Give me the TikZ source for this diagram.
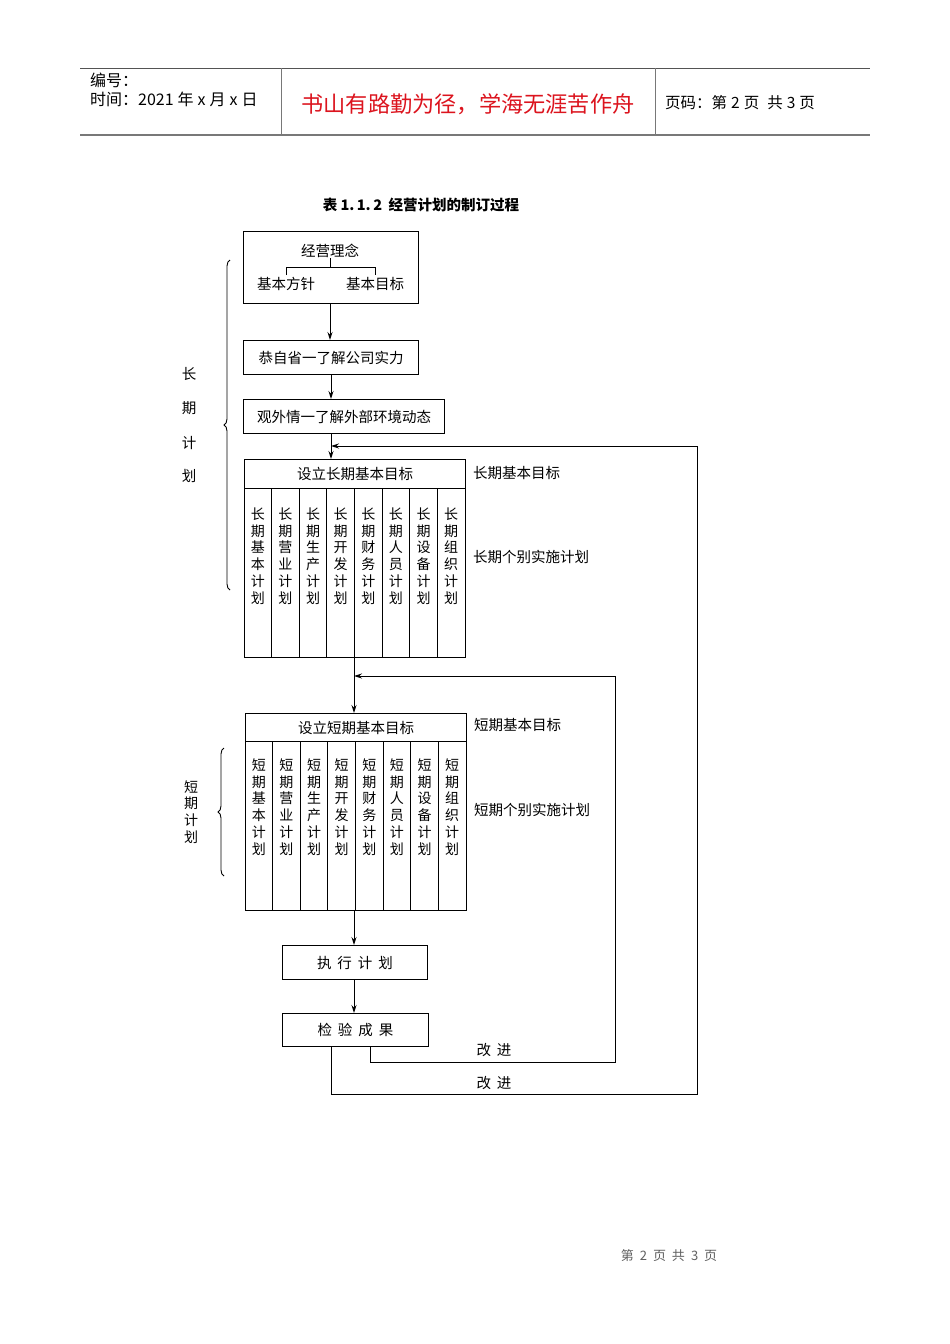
\documentclass[tikz,border=0pt]{standalone}
\usepackage{fontspec}
\setmainfont{Liberation Sans}
\newfontfamily\cjk{Noto Sans CJK SC}
\usetikzlibrary{arrows.meta,decorations.pathreplacing,calc}
\definecolor{hdrred}{RGB}{220,20,30}
\definecolor{hdrgray}{RGB}{120,120,120}
\begin{document}
\begin{tikzpicture}[x=1pt,y=-1pt,
  box/.style={draw, line width=1pt, inner sep=0pt, anchor=north west},
  txt/.style={font=\cjk\fontsize{14.5}{17}\selectfont, inner sep=0pt},
  col/.style={font=\cjk\fontsize{14}{16.8}\selectfont, inner sep=0pt, align=center},
  arr/.style={line width=0.9pt, -{Stealth[length=8pt,width=5pt]}},
  ln/.style={line width=0.9pt},
  brc/.style={line width=0.9pt, decorate, decoration={brace, amplitude=6pt}},
  hdr/.style={font=\cjk\fontsize{16}{19}\selectfont, inner sep=0pt, anchor=west}
]
\useasboundingbox (0,0) rectangle (950,1344);
\fill[white] (0,0) rectangle (950,1344);

% ---------- header ----------
\coordinate (hTL) at (80,68);
\coordinate (hTR) at (870,68);
\coordinate (hBL) at (80,135);
\coordinate (hBR) at (870,135);
\draw[line width=0.8pt, hdrgray!70!black] (hTL) -- (hTR);
\draw[line width=1.8pt, hdrgray] (hBL) -- (hBR);
\draw[line width=0.8pt, hdrgray] (281,68) -- (281,135);
\draw[line width=0.8pt, hdrgray] (655,68) -- (655,135);
\node[hdr] (h1) at (90,80) {编号：};
\node[hdr] (h2) at (90,99) {时间：2021\hspace{4pt}年\hspace{4pt}x\hspace{4pt}月\hspace{4pt}x\hspace{4pt}日};
\node[font=\cjk\fontsize{22.2}{25}\selectfont, text=hdrred, inner sep=0pt] (h3) at (468,104) {书山有路勤为径，学海无涯苦作舟};
\node[hdr, font=\cjk\fontsize{15.5}{18}\selectfont] (h4) at (665,103) {页码：第\hspace{4pt}2\hspace{4pt}页\hspace{8pt}共\hspace{4pt}3\hspace{4pt}页};

% ---------- title ----------
\node[font=\cjk\bfseries\fontsize{14.5}{17}\selectfont, inner sep=0pt] (title) at (421,205) {表 1.\,1.\,2\ \ 经营计划的制订过程};

% ---------- boxes ----------
\node[box, minimum width=175, minimum height=72] (b1) at (243,231) {};
\node[txt] (t1) at (330,251) {经营理念};
\node[txt] (t1a) at (286,284) {基本方针};
\node[txt] (t1b) at (375,284) {基本目标};
\coordinate (k0) at (330,267);
\draw[ln] (t1.south) -- (k0);
\draw[ln] ($(t1a.north |- k0)+(0,8)$) -- (t1a.north |- k0) -- (t1b.north |- k0) -- ++(0,8);

\node[box, minimum width=175, minimum height=34] (b2) at (243,340) {};
\node[txt] at (b2.center) {恭自省一了解公司实力};

\node[box, minimum width=201, minimum height=34] (b3) at (243,399) {};
\node[txt] at (b3.center) {观外情一了解外部环境动态};

% long-term block
\node[box, minimum width=221, minimum height=198] (b4) at (244,459) {};
\node[box, minimum width=221, minimum height=29] (b4h) at (244,459) {};
\node[txt] at (b4h.center) {设立长期基本目标};
\foreach \i in {1,...,7} {
  \draw[ln] ($(b4h.south west)+(27.625*\i,0)$) -- ($(b4.south west)+(27.625*\i,0)$);
}
\foreach \i/\a/\b in {0/基/本,1/营/业,2/生/产,3/开/发,4/财/务,5/人/员,6/设/备,7/组/织} {
  \node[col] (lc\i) at (244+13.8+27.625*\i,556) {长\\期\\\a\\\b\\计\\划};
}
\node[txt, anchor=west] (l1) at (473,473) {长期基本目标};
\node[txt, anchor=west] (l2) at (473,557) {长期个别实施计划};

% short-term block
\node[box, minimum width=221, minimum height=197] (b5) at (245,713) {};
\node[box, minimum width=221, minimum height=28] (b5h) at (245,713) {};
\node[txt] at (b5h.center) {设立短期基本目标};
\foreach \i in {1,...,7} {
  \draw[ln] ($(b5h.south west)+(27.625*\i,0)$) -- ($(b5.south west)+(27.625*\i,0)$);
}
\foreach \i/\a/\b in {0/基/本,1/营/业,2/生/产,3/开/发,4/财/务,5/人/员,6/设/备,7/组/织} {
  \node[col] (sc\i) at (245+13.8+27.625*\i,807) {短\\期\\\a\\\b\\计\\划};
}
\node[txt, anchor=west] (s1) at (474,725) {短期基本目标};
\node[txt, anchor=west] (s2) at (474,810) {短期个别实施计划};

\node[box, minimum width=145, minimum height=34] (b6) at (282,945) {};
\node[txt] at (b6.center) {执\hspace{6pt}行\hspace{6pt}计\hspace{6pt}划};
\node[box, minimum width=146, minimum height=33] (b7) at (282,1013) {};
\node[txt] at (b7.center) {检\hspace{6pt}验\hspace{6pt}成\hspace{6pt}果};

% ---------- connectors ----------
\draw[arr] (b1.south -| 330,0) -- (b2.north -| 330,0);
\draw[arr] (b2.south -| 331,0) -- (b3.north -| 331,0);
\coordinate (j0) at (331,446);
\draw[arr] (b3.south -| j0) -- (b4.north -| j0);
\coordinate (j1) at (354,676);
\draw[arr] (b4.south -| j1) -- (b5.north -| j1);
\draw[arr] (b5.south -| j1) -- (b6.north -| j1);
\draw[arr] (b6.south -| j1) -- (b7.north -| j1);

\coordinate (r1) at (615,1062);
\coordinate (r2) at (697,1094);
\draw[arr] (b7.south -| 370,0) |- (r1) |- (j1);
\draw[arr] (b7.south -| j0) |- (r2) |- (j0);
\node[txt] (g1) at (494,1050) {改\hspace{6pt}进};
\node[txt] (g2) at (494,1083) {改\hspace{6pt}进};

% braces and side labels
\draw[brc] (230,590) -- (230,260);
\foreach \c/\y in {长/374,期/408,计/443,划/476}
  \node[txt] at (189,\y) {\c};
\draw[brc] (224,876) -- (224,748);
\node[col] (sl) at (191,812) {短\\期\\计\\划};

% ---------- footer ----------
\node[font=\cjk\fontsize{13}{15}\selectfont, text=hdrgray!80!black, inner sep=0pt] (ft) at (669,1256) {第\hspace{6pt}2\hspace{6pt}页\hspace{6pt}共\hspace{6pt}3\hspace{6pt}页};
\end{tikzpicture}
\end{document}
